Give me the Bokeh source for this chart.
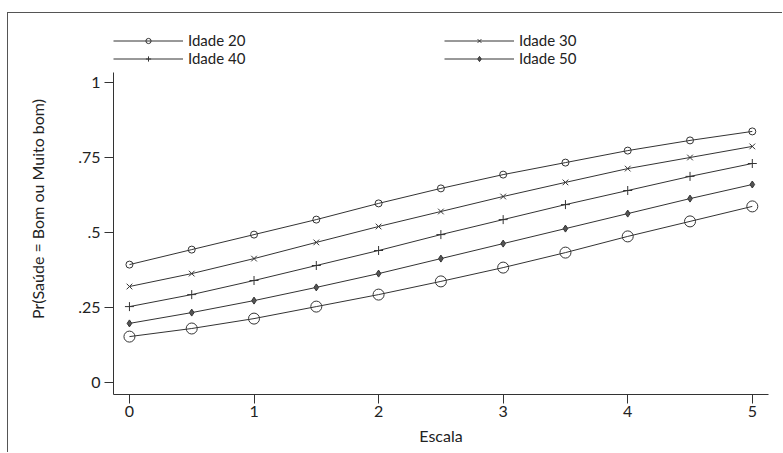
from bokeh.plotting import figure
from bokeh.models import Legend, LegendItem, FixedTicker, Range1d
from bokeh.embed import file_html
from bokeh.resources import INLINE

escala = [0, 0.5, 1, 1.5, 2, 2.5, 3, 3.5, 4, 4.5, 5]
idade20 = [0.393, 0.443, 0.493, 0.543, 0.597, 0.647, 0.693, 0.733, 0.773, 0.807, 0.837]
idade30 = [0.320, 0.363, 0.413, 0.467, 0.520, 0.570, 0.620, 0.667, 0.713, 0.750, 0.787]
idade40 = [0.253, 0.293, 0.340, 0.390, 0.440, 0.493, 0.543, 0.593, 0.640, 0.687, 0.730]
idade50 = [0.197, 0.233, 0.273, 0.317, 0.363, 0.413, 0.463, 0.513, 0.563, 0.613, 0.660]
idade60 = [0.153, 0.180, 0.213, 0.253, 0.293, 0.337, 0.383, 0.433, 0.487, 0.537, 0.587]
series_labels = ["Idade 20", "Idade 30", "Idade 40", "Idade 50"]
x_ticks = [0, 1, 2, 3, 4, 5]
y_ticks = [0, 0.25, 0.5, 0.75, 1]
y_tick_labels = ["0", ".25", ".5", ".75", "1"]

FONT = "Lato"
INK = "#333333"

p = figure(width=775, height=440, output_backend="svg", toolbar_location=None,
           x_range=Range1d(-0.128, 5.13), y_range=Range1d(-0.04, 1.1967),
           min_border_left=105, min_border_right=15, min_border_top=10,
           min_border_bottom=59)
p.styles = {"margin-top": "12px", "margin-left": "7px",
            "border-top": "1px solid #555555",
            "border-left": "1px solid #555555"}
p.outline_line_color = None
p.grid.visible = False
p.background_fill_color = "white"
p.border_fill_color = "white"

specs = [
    (idade20, "circle", 7, None),
    (idade30, "x", 8, None),
    (idade40, "cross", 9, None),
    (idade50, "diamond", 7, "#555555"),
    (idade60, "circle", 11, None),
]
items = {}
for i, (vals, marker, size, fill) in enumerate(specs):
    lr = p.line(escala, vals, line_color=INK, line_width=1)
    sr = p.scatter(escala, vals, marker=marker, size=size, line_color=INK,
                   fill_color=fill, line_width=1)
    if i < len(series_labels):
        items[i] = LegendItem(label=series_labels[i], renderers=[lr, sr])

# legend fills column by column: 20, 40 | 30, 50
legend = Legend(items=[items[0], items[2], items[1], items[3]], ncols=2,
                location=(0, 327), glyph_width=70,
                glyph_height=13, label_height=13, label_width=256,
                label_standoff=5, spacing=0, padding=0, margin=0,
                border_line_color=None, background_fill_alpha=0,
                label_text_font=FONT, label_text_font_size="15px",
                label_text_color="#222222")
p.add_layout(legend, "center")

p.xaxis.ticker = FixedTicker(ticks=x_ticks)
p.yaxis.ticker = FixedTicker(ticks=y_ticks)
p.yaxis.bounds = (-0.04, 1.0333)
p.yaxis.major_label_overrides = {v: s for v, s in zip(y_ticks, y_tick_labels)}
p.xaxis.axis_label = "Escala"
p.yaxis.axis_label = "Pr(Saúde = Bom ou Muito bom)"
for ax in (p.xaxis, p.yaxis):
    ax.axis_line_color = INK
    ax.major_tick_line_color = INK
    ax.minor_tick_line_color = None
    ax.major_tick_in = 0
    ax.major_tick_out = 9
    ax.major_label_text_font = FONT
    ax.major_label_text_font_size = "16px"
    ax.major_label_text_color = "#222222"
    ax.axis_label_text_font = FONT
    ax.axis_label_text_font_size = "16px"
    ax.axis_label_text_font_style = "normal"
    ax.axis_label_text_color = "#222222"
p.yaxis.major_label_orientation = "horizontal"
p.yaxis.major_label_standoff = 4
p.yaxis.axis_label_standoff = 28
p.xaxis.major_label_standoff = 2
p.xaxis.axis_label_standoff = 6

open("out.html", "w").write(file_html(p, INLINE))
